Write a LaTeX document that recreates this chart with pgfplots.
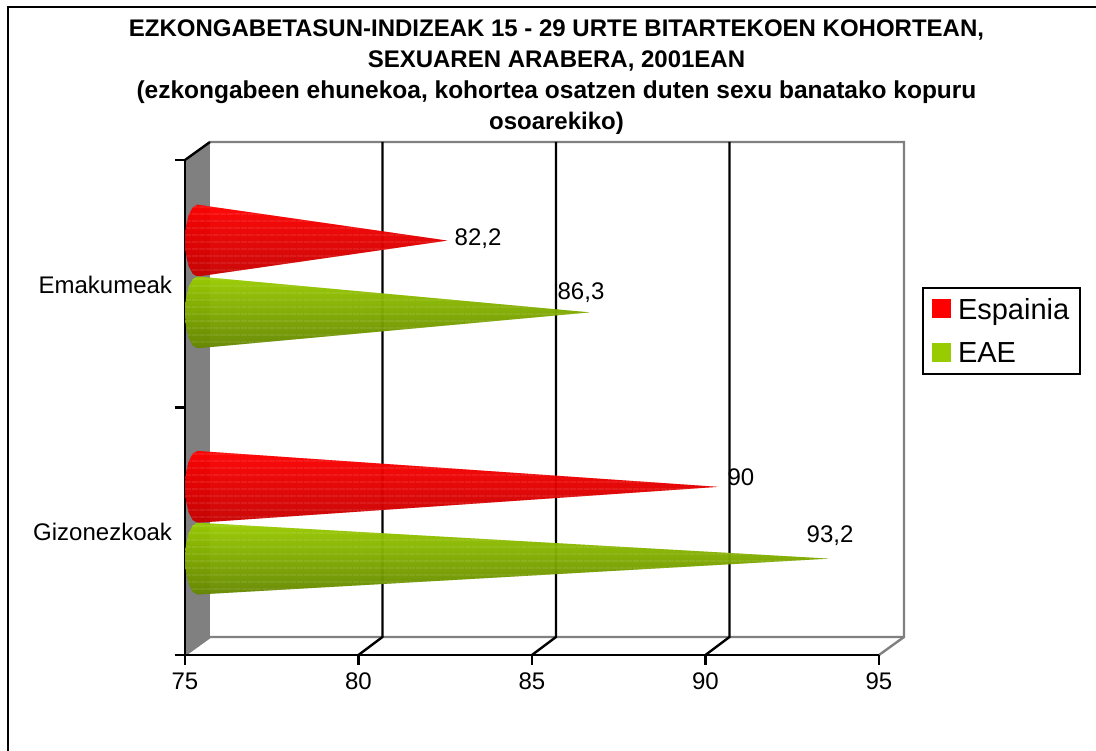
\documentclass[border=0pt]{standalone}
\usepackage{fontspec}
\setmainfont{Liberation Sans}
\usepackage{pgfplots}
\pgfplotsset{compat=1.18}
\usetikzlibrary{patterns.meta}
\definecolor{wall}{HTML}{808080}
\definecolor{eae}{HTML}{99CC00}
\tikzset{
  conebase/.style={draw=none, opacity=0.94, shift={(12.5pt,8.5pt)},
    postaction={pattern={Lines[angle=0,distance=6.5pt,line width=0.8pt]}, pattern color=white, opacity=0.38}},
  redcone/.style={conebase, top color=red, middle color=red!97!black, bottom color=red!78!black},
  greencone/.style={conebase, top color=eae, middle color=eae!98!black, bottom color=eae!66!black},
  val/.style={font=\fontsize{24}{24}\selectfont, inner sep=0pt},
}
\begin{document}
\begin{tikzpicture}[x=1pt,y=1pt]
% picture runs 1096 x 751, origin at the front corner of the axis (pixel 185,655)
\path[use as bounding box] (-185,-96) rectangle (911,655);
\draw[black, line width=2.3pt] (-177,-96) -- (-177,648) -- (911,648);
% side wall and back wall
\fill[wall] (0,0) -- (25,18) -- (25,513) -- (0,495) -- cycle;
\draw[wall, line width=2.4pt] (25,513) -- (719,513) -- (719,18) -- (25,18) -- (0,0);
\draw[wall, line width=2.4pt] (719,18) -- (694,0);
\foreach \gx in {173.5,347,520.5}{
  \draw[black, line width=2.4pt] (\gx+24,513) -- (\gx+24,18) -- (\gx,0);
}
\draw[black, line width=2.4pt] (0,495) -- (25,513);
\foreach \gy in {0,247.5,495}{
  \draw[black, line width=2.4pt] (-10,\gy) -- (0,\gy);
}
\node[align=center, font=\fontsize{24}{30.8}\selectfont\bfseries, inner sep=0pt, anchor=north] at (371.5,635)
  {EZKONGABETASUN-INDIZEAK 15 - 29 URTE BITARTEKOEN KOHORTEAN,\\
   SEXUAREN ARABERA, 2001EAN\\
   {\fontsize{24.5}{30.8}\selectfont (ezkongabeen ehunekoa, kohortea osatzen duten sexu banatako kopuru}\\
   osoarekiko)};
\begin{axis}[
  scale only axis, width=694pt, height=495pt,
  at={(0,0)}, anchor=south west,
  xmin=75, xmax=95, ymin=0, ymax=2,
  clip=false,
  axis lines=left, axis line style={black, line width=2.4pt, -},
  xtick={75,80,85,90,95},
  ytick={0.5,1.5}, yticklabels={Gizonezkoak,Emakumeak},
  major tick length=10pt,
  tick align=outside,
  x tick style={black, line width=2.4pt},
  y tick style={draw=none},
  tick label style={font=\fontsize{24}{24}\selectfont},
  /pgf/number format/assume math mode=true,
  xticklabel style={yshift=-4pt},
  yticklabel style={xshift=0.5pt, yshift=-1pt},
  legend style={at={(1.062,0.743)}, anchor=north west, draw=black, line width=2pt,
    font=\fontsize{29}{30}\selectfont, inner xsep=9pt, inner ysep=8pt,
    legend cell align=left, row sep=18pt},
  legend image code/.code={\path[#1, draw=none] (0pt,-8.5pt) rectangle (19pt,10.5pt); \path (23pt,0pt);},
]
\addlegendimage{fill=red}
\addlegendentry{Espainia}
\addlegendimage{fill=eae}
\addlegendentry{EAE}
% Emakumeak
\addplot[redcone] coordinates {(82.2,1.64) (75,1.785) (74.862,1.774) (74.745,1.7425) (74.667,1.6955) (74.64,1.64) (74.667,1.5845) (74.745,1.5375) (74.862,1.506) (75,1.495)} --cycle;
\addplot[greencone] coordinates {(86.3,1.35) (75,1.495) (74.862,1.484) (74.745,1.4525) (74.667,1.4055) (74.64,1.35) (74.667,1.2945) (74.745,1.2475) (74.862,1.216) (75,1.205)} --cycle;
% Gizonezkoak
\addplot[redcone] coordinates {(90,0.645) (75,0.79) (74.862,0.779) (74.745,0.7475) (74.667,0.7005) (74.64,0.645) (74.667,0.5895) (74.745,0.5425) (74.862,0.511) (75,0.5)} --cycle;
\addplot[greencone] coordinates {(93.2,0.355) (75,0.5) (74.862,0.489) (74.745,0.4575) (74.667,0.4105) (74.64,0.355) (74.667,0.2995) (74.745,0.2525) (74.862,0.221) (75,0.21)} --cycle;
\node[val, shift={(43.2pt,9.2pt)}] at (axis cs:82.2,1.645) {82,2};
\node[val, shift={(3.9pt,27.1pt)}] at (axis cs:86.3,1.355) {86,3};
\node[val, shift={(35.5pt,18.4pt)}] at (axis cs:90,0.645) {90};
\node[val, shift={(13.5pt,31.6pt)}] at (axis cs:93.2,0.355) {93,2};
\end{axis}
\end{tikzpicture}
\end{document}
